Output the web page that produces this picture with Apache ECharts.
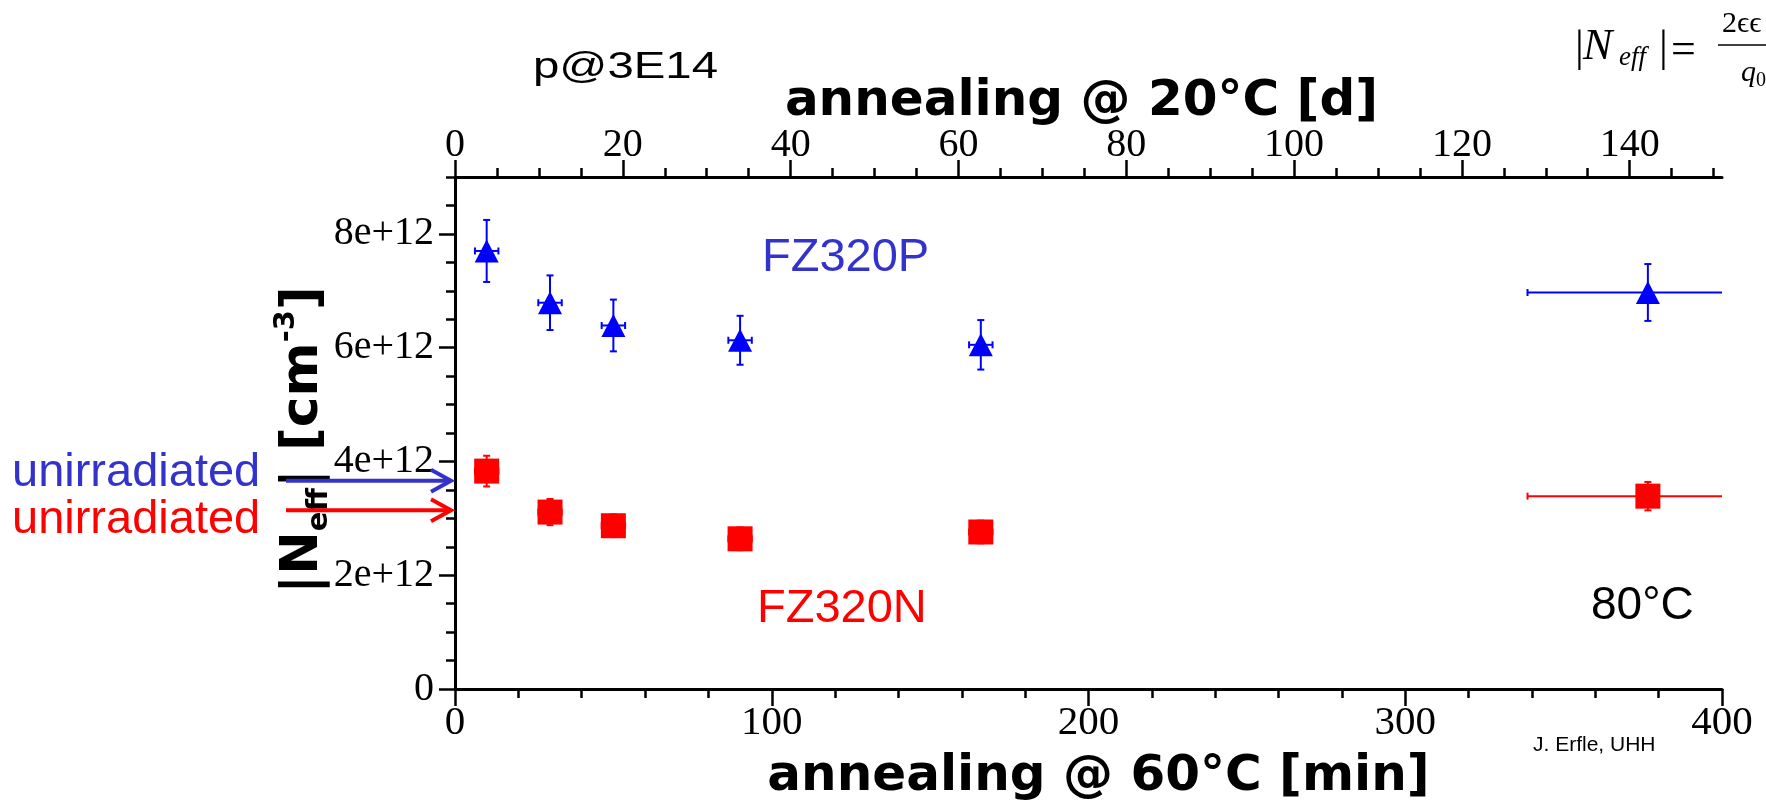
<!DOCTYPE html>
<html><head><meta charset="utf-8">
<script src="https://cdn.jsdelivr.net/npm/echarts@6/dist/echarts.min.js"></script>
<style>html,body{margin:0;padding:0;background:#fff}#c{width:1766px;height:800px}</style>
</head><body><div id="c"></div>
<script>
// ---- data ----
const annealMinutes   = [10, 30, 50, 90, 166];
const timeErrMinutes  = [3.7, 3.7, 3.7, 3.7, 3.7];
const fz320pValues    = [7.70e12, 6.79e12, 6.39e12, 6.13e12, 6.05e12];
const fz320pErrors    = [0.545e12, 0.48e12, 0.455e12, 0.43e12, 0.435e12];
const fz320nValues    = [3.83e12, 3.11e12, 2.87e12, 2.64e12, 2.76e12];
const fz320nErrors    = [0.27e12, 0.23e12, 0.20e12, 0.20e12, 0.20e12];
const hot80Minutes    = [376.6];
const hot80TimeErr    = [38];
const hot80PValues    = [6.97e12];
const hot80PErrors    = [0.50e12];
const hot80NValues    = [3.39e12];
const hot80NErrors    = [0.25e12];
const unirradiatedP   = 3.66e12;
const unirradiatedN   = 3.14e12;
// ---- tick labels ----
const bottomTicks      = [0, 100, 200, 300, 400];
const bottomMinorTicks = [20, 40, 60, 80, 120, 140, 160, 180, 220, 240, 260, 280, 320, 340, 360, 380];
const topTicks         = [0, 20, 40, 60, 80, 100, 120, 140];
const topMinorTicks    = [5, 10, 15, 25, 30, 35, 45, 50, 55, 65, 70, 75, 85, 90, 95, 105, 110, 115, 125, 130, 135, 145, 150];
const yTicks           = [0, 2e12, 4e12, 6e12, 8e12];
const yMinorTicks      = [0.5e12, 1e12, 1.5e12, 2.5e12, 3e12, 3.5e12, 4.5e12, 5e12, 5.5e12, 6.5e12, 7e12, 7.5e12, 8.5e12, 9e12];

const BLUE = '#0000ff', RED = '#ff0000', TXTBLUE = '#3333cc';
const SERIF = '"Liberation Serif", "DejaVu Serif", serif';
const SANS = '"Liberation Sans", Arial, sans-serif';

function rows(xs, xe, ys, ye) { return xs.map((x, i) => [x, ys[i], xe[i], ye[i]]); }
const pRows = rows(annealMinutes, timeErrMinutes, fz320pValues, fz320pErrors).concat(rows(hot80Minutes, hot80TimeErr, hot80PValues, hot80PErrors));
const nRows = rows(annealMinutes, timeErrMinutes, fz320nValues, fz320nErrors).concat(rows(hot80Minutes, hot80TimeErr, hot80NValues, hot80NErrors));

function errorBars(color) {
  return function (params, api) {
    const x = api.value(0), y = api.value(1), ex = api.value(2), ey = api.value(3);
    const l = api.coord([x - ex, y]), r = api.coord([x + ex, y]);
    const b = api.coord([x, y - ey]), t = api.coord([x, y + ey]);
    const cap = 3.5;
    const st = { stroke: color, lineWidth: 2 };
    return { type: 'group', children: [
      { type: 'line', shape: { x1: l[0], y1: l[1], x2: r[0], y2: r[1] }, style: st },
      { type: 'line', shape: { x1: l[0], y1: l[1] - cap, x2: l[0], y2: l[1] + cap }, style: st },
      { type: 'line', shape: { x1: r[0], y1: r[1] - cap, x2: r[0], y2: r[1] + cap }, style: st },
      { type: 'line', shape: { x1: b[0], y1: b[1], x2: t[0], y2: t[1] }, style: st },
      { type: 'line', shape: { x1: b[0] - cap, y1: b[1], x2: b[0] + cap, y2: b[1] }, style: st },
      { type: 'line', shape: { x1: t[0] - cap, y1: t[1], x2: t[0] + cap, y2: t[1] }, style: st }
    ]};
  };
}

const tickStyle = { color: '#000', width: 2.5 };
const lineStyle = { color: '#000', width: 3 };
const labelFont = { fontFamily: SERIF, fontSize: 40, lineHeight: 40, color: '#000' };
const titleFont = { fontFamily: '"DejaVu Sans", Verdana, sans-serif', fontWeight: 'bold', fontSize: 50, lineHeight: 50, color: '#000' };

const chart = echarts.init(document.getElementById('c'), null, { renderer: 'canvas' });
chart.setOption({
  animation: false,
  backgroundColor: '#fff',
  grid: { left: 455, top: 177, width: 1267, height: 512, containLabel: false, outerBoundsMode: 'none' },
  xAxis: [
    { type: 'value', position: 'bottom', min: 0, max: 400,
      axisLine: { show: true, onZero: false, lineStyle: lineStyle },
      axisTick: { show: true, inside: false, length: 17, lineStyle: tickStyle, customValues: bottomTicks },
      axisLabel: { show: true, margin: 14, fontSize: 41, lineHeight: 41, fontFamily: SERIF, color: '#000', customValues: bottomTicks },
      splitLine: { show: false },
      name: 'annealing @ 60°C [min]', nameLocation: 'middle', nameGap: 63, nameMoveOverlap: false,
      nameTextStyle: Object.assign({ padding: [0, 0, 0, 20] }, titleFont) },
    { type: 'value', position: 'top', min: 0, max: 151,
      axisLine: { show: true, onZero: false, lineStyle: lineStyle },
      axisTick: { show: true, inside: false, length: 17, lineStyle: tickStyle, customValues: topTicks },
      axisLabel: Object.assign({ show: true, margin: 12, customValues: topTicks }, labelFont),
      splitLine: { show: false },
      name: 'annealing @ 20°C [d]', nameLocation: 'middle', nameGap: 50, nameMoveOverlap: false,
      nameTextStyle: Object.assign({ padding: [0, 14, 0, 0] }, titleFont) },
    { type: 'value', position: 'bottom', min: 0, max: 400,
      axisLine: { show: false, onZero: false }, axisLabel: { show: false }, splitLine: { show: false },
      axisTick: { show: true, inside: false, length: 9, lineStyle: tickStyle, customValues: bottomMinorTicks } },
    { type: 'value', position: 'top', min: 0, max: 151,
      axisLine: { show: false, onZero: false }, axisLabel: { show: false }, splitLine: { show: false },
      axisTick: { show: true, inside: false, length: 9, lineStyle: tickStyle, customValues: topMinorTicks } }
  ],
  yAxis: [
    { type: 'value', position: 'left', min: 0, max: 9e12,
      axisLine: { show: true, onZero: false, lineStyle: lineStyle },
      axisTick: { show: true, inside: false, length: 16, lineStyle: tickStyle, customValues: yTicks },
      axisLabel: Object.assign({ show: true, margin: 21, customValues: yTicks,
        formatter: v => v === 0 ? '0' : (v / 1e12) + 'e+12' }, labelFont),
      splitLine: { show: false },
      name: '{a||N}{s|eff}{a|| [cm}{p|-3}{a|]}', nameLocation: 'middle', nameRotate: 90, nameGap: 121, nameMoveOverlap: false,
      nameTextStyle: { padding: [0, 14, 0, 0], rich: {
        a: { fontFamily: '"DejaVu Sans", sans-serif', fontWeight: 'bold', fontSize: 52, lineHeight: 62, color: '#000' },
        s: { fontFamily: '"DejaVu Sans", sans-serif', fontWeight: 'bold', fontSize: 29, lineHeight: 31, verticalAlign: 'bottom', color: '#000' },
        p: { fontFamily: '"DejaVu Sans", sans-serif', fontWeight: 'bold', fontSize: 29, lineHeight: 31, verticalAlign: 'top', color: '#000' }
      } } },
    { type: 'value', position: 'left', min: 0, max: 9e12,
      axisLine: { show: false, onZero: false }, axisLabel: { show: false }, splitLine: { show: false },
      axisTick: { show: true, inside: false, length: 9, lineStyle: tickStyle, customValues: yMinorTicks } }
  ],
  series: [
    { name: 'FZ320P errors', type: 'custom', xAxisIndex: 0, yAxisIndex: 0, clip: true, silent: true, z: 2,
      renderItem: errorBars(BLUE), data: pRows },
    { name: 'FZ320N errors', type: 'custom', xAxisIndex: 0, yAxisIndex: 0, clip: true, silent: true, z: 2,
      renderItem: errorBars(RED), data: nRows },
    { name: 'FZ320P', type: 'scatter', xAxisIndex: 0, yAxisIndex: 0, silent: true, z: 3,
      symbol: 'triangle', symbolSize: [24, 23], itemStyle: { color: BLUE, opacity: 1 },
      data: pRows.map(r => [r[0], r[1]]) },
    { name: 'FZ320N', type: 'scatter', xAxisIndex: 0, yAxisIndex: 0, silent: true, z: 3,
      symbol: 'rect', symbolSize: 25, itemStyle: { color: RED, opacity: 1 },
      data: nRows.map(r => [r[0], r[1]]) }
  ]
});

function txt(text, x, y, font, fill, extra) {
  return Object.assign({ type: 'text', x: x, y: y, z: 50,
    style: { text: text, font: font, fill: fill, align: 'left', verticalAlign: 'middle' } }, extra || {});
}
const yP = chart.convertToPixel({ yAxisIndex: 0 }, unirradiatedP);
const yN = chart.convertToPixel({ yAxisIndex: 0 }, unirradiatedN);
function arrow(y, color) {
  return [
    { type: 'line', z: 100, shape: { x1: 286, y1: y, x2: 450, y2: y }, style: { stroke: color, lineWidth: 4 } },
    { type: 'polyline', z: 100, shape: { points: [[431, y - 11], [451, y], [431, y + 11]] },
      style: { stroke: color, lineWidth: 4, fill: null, lineJoin: 'miter' } }
  ];
}
chart.setOption({
  graphic: [
    txt('p@3E14', 533, 68, '37px ' + SANS, '#000', { scaleX: 1.28 }),
    txt('FZ320P', 762, 258, '47px ' + SANS, TXTBLUE),
    txt('FZ320N', 757, 609, '47px ' + SANS, RED),
    txt('80°C', 1591, 606, '46px ' + SANS, '#000'),
    txt('J. Erfle, UHH', 1533, 745, '21px ' + SANS, '#000'),
    txt('unirradiated', 12, 473, '47px ' + SANS, TXTBLUE),
    txt('unirradiated', 12, 520, '47px ' + SANS, RED),
    // formula (cut at the right border as in the reference)
    txt('|', 1575, 49, '44px ' + SERIF, '#000'),
    txt('N', 1583, 47, 'italic 44px ' + SERIF, '#000'),
    txt('eff', 1619, 58, 'italic 27px ' + SERIF, '#000'),
    txt('|', 1659, 49, '44px ' + SERIF, '#000'),
    txt('=', 1671, 51, '44px ' + SERIF, '#000'),
    txt('2ϵϵ', 1722, 24, '30px ' + SERIF, '#000'),
    { type: 'line', z: 50, shape: { x1: 1718, y1: 45, x2: 1770, y2: 45 }, style: { stroke: '#000', lineWidth: 1.5 } },
    txt('q', 1741, 73, 'italic 30px ' + SERIF, '#000'),
    txt('0', 1756, 81, '20px ' + SERIF, '#000')
  ].concat(arrow(yP, TXTBLUE), arrow(yN, RED))
});
</script>
</body></html>
